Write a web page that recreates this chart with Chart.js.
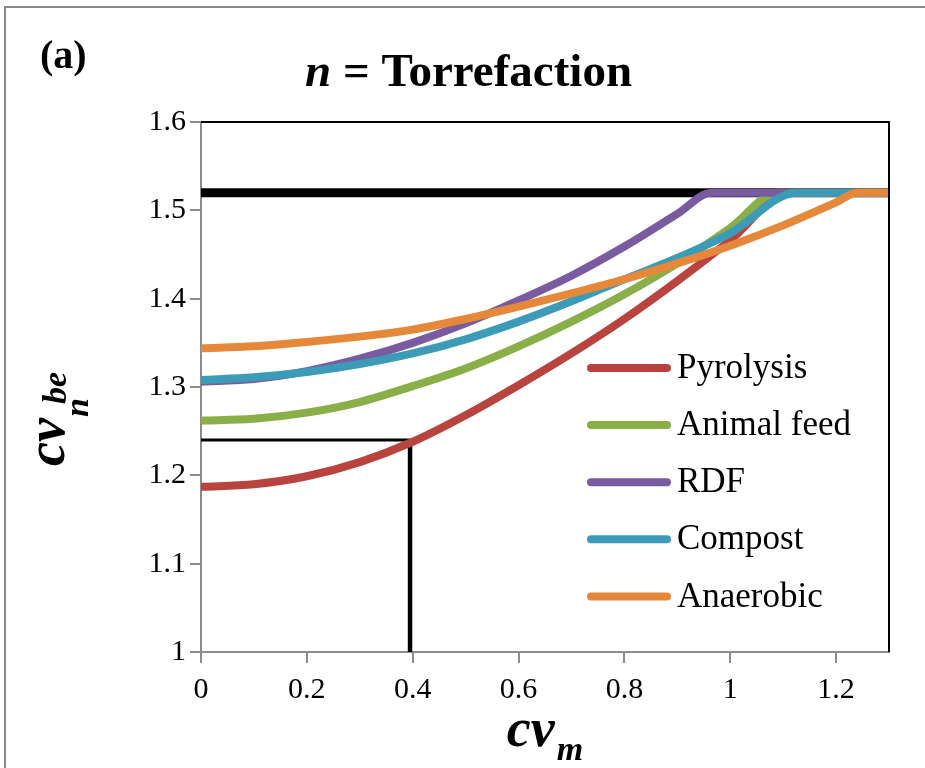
<!DOCTYPE html>
<html>
<head>
<meta charset="utf-8">
<script src="https://cdn.jsdelivr.net/npm/chart.js@4.4.1/dist/chart.umd.min.js"></script>
<style>
  html, body { margin: 0; padding: 0; background: #ffffff; }
  #wrap { width: 925px; height: 768px; position: relative; }
</style>
</head>
<body>
<div id="wrap"><canvas id="chart" width="925" height="768"></canvas></div>
<script>
// Series names and colours
const seriesNames  = ['Pyrolysis', 'Animal feed', 'RDF', 'Compost', 'Anaerobic'];
const seriesColors = ['#B8433F', '#8AAE48', '#7A5BA0', '#3C9CB8', '#E6883A'];

// cv_m values and cv_n^be values for each pathway
const xPyrolysis  = [0, 0.1, 0.2, 0.3, 0.4, 0.5, 0.6, 0.7, 0.8, 0.9, 1.0, 1.11, 1.2, 1.3];
const yPyrolysis  = [1.187, 1.190, 1.199, 1.215, 1.238, 1.268, 1.302, 1.338, 1.377, 1.420, 1.466, 1.52, 1.52, 1.52];

const xAnimalFeed = [0, 0.1, 0.2, 0.3, 0.4, 0.5, 0.6, 0.7, 0.8, 0.9, 1.0, 1.09, 1.2, 1.3];
const yAnimalFeed = [1.262, 1.264, 1.271, 1.283, 1.301, 1.321, 1.346, 1.374, 1.405, 1.440, 1.480, 1.52, 1.52, 1.52];

const xRDF        = [0, 0.1, 0.2, 0.3, 0.4, 0.5, 0.6, 0.7, 0.8, 0.9, 0.965, 1.1, 1.2, 1.3];
const yRDF        = [1.306, 1.309, 1.318, 1.332, 1.350, 1.372, 1.398, 1.426, 1.459, 1.496, 1.52, 1.52, 1.52, 1.52];

const xCompost    = [0, 0.1, 0.2, 0.3, 0.4, 0.5, 0.6, 0.7, 0.8, 0.9, 1.0, 1.125, 1.2, 1.3];
const yCompost    = [1.308, 1.311, 1.317, 1.326, 1.338, 1.354, 1.374, 1.397, 1.422, 1.446, 1.474, 1.52, 1.52, 1.52];

const xAnaerobic  = [0, 0.1, 0.2, 0.3, 0.4, 0.5, 0.6, 0.7, 0.8, 0.9, 1.0, 1.1, 1.2, 1.24, 1.3];
const yAnaerobic  = [1.344, 1.346, 1.351, 1.357, 1.365, 1.377, 1.391, 1.406, 1.422, 1.440, 1.460, 1.483, 1.509, 1.52, 1.52];

// Upper bound (torrefaction reference level) and the read-off guide
const xUpperBound = [0, 1.3];
const yUpperBound = [1.52, 1.52];
const xGuide      = [0, 0.395, 0.395];
const yGuide      = [1.24, 1.24, 1.0];

// Axis ticks
const xTicks = [0, 0.2, 0.4, 0.6, 0.8, 1, 1.2];
const yTicks = [1, 1.1, 1.2, 1.3, 1.4, 1.5, 1.6];

const SERIF = '"Liberation Serif", "Times New Roman", serif';

const pts = (xs, ys) => xs.map((x, i) => ({ x: x, y: ys[i] }));

const seriesX = [xPyrolysis, xAnimalFeed, xRDF, xCompost, xAnaerobic];
const seriesY = [yPyrolysis, yAnimalFeed, yRDF, yCompost, yAnaerobic];

const datasets = seriesNames.map((name, i) => ({
  label: name,
  data: pts(seriesX[i], seriesY[i]),
  borderColor: seriesColors[i],
  borderWidth: 8,
  cubicInterpolationMode: 'monotone',
  pointRadius: 0,
  fill: false,
  inLegend: true,
  order: seriesNames.length - i   // later pathways sit on top
}));

datasets.push({
  label: 'upper',
  data: pts(xUpperBound, yUpperBound),
  borderColor: '#000000',
  borderWidth: 9,
  pointRadius: 0,
  tension: 0,
  order: 20
});

datasets.push({
  label: 'guide',
  data: pts(xGuide, yGuide),
  borderColor: '#000000',
  borderWidth: 3,
  pointRadius: 0,
  tension: 0,
  borderJoinStyle: 'miter',
  segment: { borderWidth: c => (c.p0DataIndex === 1 ? 4.5 : 3) },
  order: 21
});

// Frame, plot border, titles and legend
const decorations = {
  id: 'decorations',
  beforeDraw(chart) {
    const ctx = chart.ctx;
    ctx.save();
    ctx.fillStyle = '#ffffff';
    ctx.fillRect(0, 0, chart.width, chart.height);
    ctx.strokeStyle = '#8a8a8a';
    ctx.lineWidth = 2;
    ctx.beginPath();
    ctx.moveTo(5, chart.height + 5);
    ctx.lineTo(5, 7);
    ctx.lineTo(chart.width + 5, 7);
    ctx.stroke();
    ctx.restore();
  },
  afterDraw(chart) {
    const ctx = chart.ctx;
    const a = chart.chartArea;
    ctx.save();

    // black top and right border of the plot area
    ctx.strokeStyle = '#000000';
    ctx.lineWidth = 2;
    ctx.beginPath();
    ctx.moveTo(a.left, a.top);
    ctx.lineTo(a.right, a.top);
    ctx.lineTo(a.right, a.bottom);
    ctx.stroke();

    ctx.fillStyle = '#000000';
    ctx.textBaseline = 'alphabetic';
    ctx.textAlign = 'left';

    // panel label
    ctx.font = 'bold 40px ' + SERIF;
    ctx.fillText('(a)', 40, 68);

    // chart title: "n = Torrefaction"
    ctx.font = 'bold italic 47px ' + SERIF;
    const nW = ctx.measureText('n').width;
    ctx.fillText('n', 305, 86);
    ctx.font = 'bold 47px ' + SERIF;
    ctx.fillText(' = Torrefaction', 305 + nW, 86);

    // x axis title: cv_m
    ctx.font = 'bold italic 54px ' + SERIF;
    const cvW = ctx.measureText('cv').width;
    ctx.font = 'bold italic 34px ' + SERIF;
    const mW = ctx.measureText('m').width;
    const xCenter = (a.left + a.right) / 2;
    const x0 = xCenter - (cvW + 2 + mW) / 2;
    ctx.font = 'bold italic 54px ' + SERIF;
    ctx.fillText('cv', x0, 746);
    ctx.font = 'bold italic 34px ' + SERIF;
    ctx.fillText('m', x0 + cvW + 2, 760);

    // y axis title: cv_n^be (rotated)
    ctx.save();
    ctx.translate(64, 466);
    ctx.rotate(-Math.PI / 2);
    ctx.font = 'bold italic 54px ' + SERIF;
    const cvW2 = ctx.measureText('cv').width;
    ctx.fillText('cv', 0, 0);
    ctx.font = 'bold italic 34px ' + SERIF;
    ctx.fillText('n', cvW2 + 1, 24);
    ctx.fillText('be', cvW2 + 14, 2);
    ctx.restore();

    // legend
    const rowTop = 368, rowStep = 57.1;
    let row = 0;
    chart.data.datasets.forEach(ds => {
      if (!ds.inLegend) return;
      const y = rowTop + row * rowStep;
      ctx.strokeStyle = ds.borderColor;
      ctx.lineWidth = 8;
      ctx.lineCap = 'round';
      ctx.beginPath();
      ctx.moveTo(591, y);
      ctx.lineTo(667, y);
      ctx.stroke();
      ctx.fillStyle = '#000000';
      ctx.font = '35px ' + SERIF;
      ctx.textBaseline = 'middle';
      ctx.fillText(ds.label, 677, y + 1);
      row++;
    });
    ctx.restore();
  }
};

new Chart(document.getElementById('chart'), {
  type: 'line',
  data: { datasets: datasets },
  plugins: [decorations],
  options: {
    responsive: false,
    animation: false,
    events: [],
    layout: { padding: { top: 122, right: 36, bottom: 0, left: 0 } },
    plugins: { legend: { display: false }, tooltip: { enabled: false }, title: { display: false } },
    scales: {
      x: {
        type: 'linear',
        min: 0,
        max: 1.3,
        afterBuildTicks(s) { s.ticks = xTicks.map(v => ({ value: v })); },
        afterFit(s) { s.height = 116; },
        grid: { drawOnChartArea: false, drawTicks: true, tickLength: 11, color: '#8c8c8c', lineWidth: 2 },
        border: { color: '#8c8c8c', width: 2 },
        ticks: {
          color: '#000000',
          font: { family: SERIF, size: 30 },
          padding: 9,
          maxRotation: 0,
          autoSkip: false,
          callback: v => String(v)
        }
      },
      y: {
        type: 'linear',
        min: 1,
        max: 1.6,
        afterBuildTicks(s) { s.ticks = yTicks.map(v => ({ value: v })); },
        afterFit(s) { s.width = 201; },
        grid: { drawOnChartArea: false, drawTicks: true, tickLength: 11, color: '#8c8c8c', lineWidth: 2 },
        border: { color: '#8c8c8c', width: 2 },
        ticks: {
          color: '#000000',
          font: { family: SERIF, size: 30 },
          padding: 4,
          autoSkip: false,
          callback: v => String(v)
        }
      }
    }
  }
});
</script>
</body>
</html>
